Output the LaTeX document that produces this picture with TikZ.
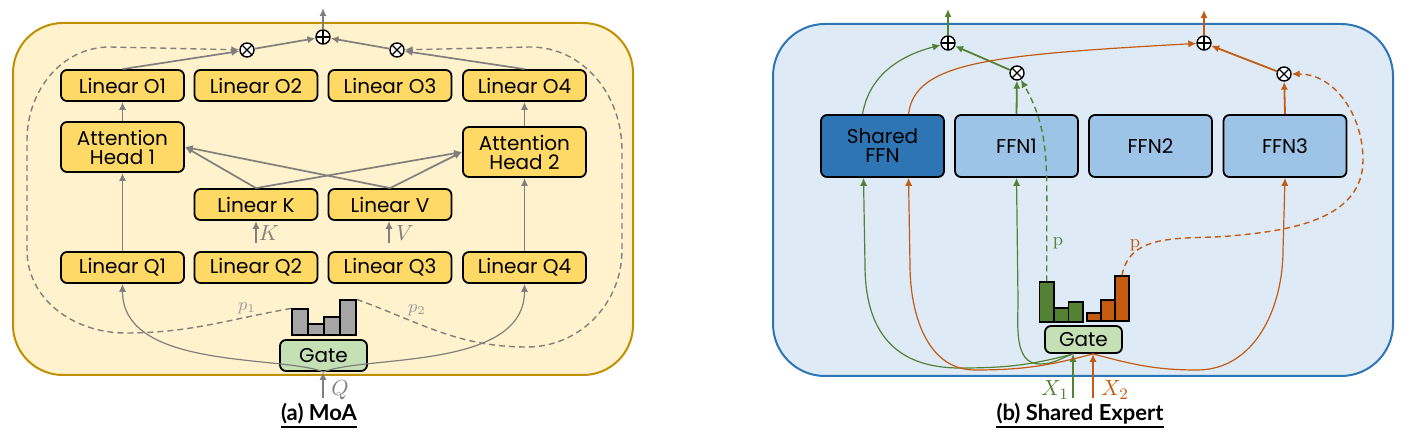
\documentclass[tikz,border=0pt]{standalone}
\usepackage[no-math]{fontspec}
\setmainfont{Poppins}
\newfontfamily\capfont{Lato}
\usetikzlibrary{arrows.meta}

\definecolor{moafill}{HTML}{FFF2CC}
\definecolor{moaline}{HTML}{BF9000}
\definecolor{linfill}{HTML}{FFD966}
\definecolor{gatefill}{HTML}{C5E0B4}
\definecolor{sefill}{HTML}{DEEBF7}
\definecolor{seline}{HTML}{2E75B6}
\definecolor{ffnfill}{HTML}{9DC3E6}
\definecolor{sharedfill}{HTML}{2E75B6}
\definecolor{arrgray}{HTML}{7F7F7F}
\definecolor{labgray}{HTML}{999999}
\definecolor{bargray}{HTML}{A5A5A5}
\definecolor{tokA}{HTML}{548235}
\definecolor{tokB}{HTML}{C55A11}

\tikzset{
  >={Latex[length=4pt,width=3.6pt]},
  unit/.style={draw, rounded corners=3pt, line width=0.9pt, inner sep=0pt,
    minimum width=61.5pt, minimum height=15.5pt,
    font=\fontsize{10}{9.5}\selectfont, align=center},
  lin/.style={unit, fill=linfill},
  head/.style={lin, minimum height=25pt},
  ffn/.style={unit, fill=ffnfill, minimum height=31pt},
  gatebox/.style={unit, fill=gatefill, minimum width=43.5pt},
  histbar/.style={draw, line width=0.8pt, inner sep=0pt, anchor=south, minimum width=8pt},
  opnode/.style={circle, draw, fill=white, line width=0.7pt, inner sep=0pt, minimum size=7pt},
  mulop/.style={opnode, path picture={\draw[line width=0.6pt]
    (path picture bounding box.north west) -- (path picture bounding box.south east)
    (path picture bounding box.north east) -- (path picture bounding box.south west);}},
  addop/.style={opnode, path picture={\draw[line width=0.6pt]
    (path picture bounding box.north) -- (path picture bounding box.south)
    (path picture bounding box.east) -- (path picture bounding box.west);}},
  garr/.style={arrgray, line width=0.85pt},
  gthin/.style={arrgray, line width=0.6pt},
  gdash/.style={arrgray, line width=0.7pt, dash pattern=on 3pt off 2pt},
  athick/.style={tokA, line width=0.9pt},
  athin/.style={tokA, line width=0.6pt},
  adash/.style={tokA, line width=0.7pt, dash pattern=on 3pt off 2pt},
  bthick/.style={tokB, line width=0.9pt},
  bthin/.style={tokB, line width=0.6pt},
  bdash/.style={tokB, line width=0.7pt, dash pattern=on 3pt off 2pt},
  mlab/.style={inner sep=0pt, font=\fontsize{11}{12}\selectfont},
  plab/.style={inner sep=0pt, font=\fontsize{9}{10}\selectfont},
  caption/.style={inner sep=0pt, anchor=base, font=\capfont\bfseries\fontsize{11}{12}\selectfont},
}

\begin{document}
\begin{tikzpicture}[x=0.5pt, y=-0.5pt]
\useasboundingbox (0,0) rectangle (1411,437);

% ---- (a) MoA ----
\draw[line width=1pt, draw=moaline, fill=moafill, rounded corners=25pt] (13,23) rectangle (633,375);

\node[lin] (lo1) at (122.5,85.5) {Linear O1};
\node[lin] (lo2) at (256,85.5) {Linear O2};
\node[lin] (lo3) at (390,85.5) {Linear O3};
\node[lin] (lo4) at (524.5,85.5) {Linear O4};
\node[head] (ha1) at (122.5,147) {Attention\\Head 1};
\node[head] (ha2) at (524.5,152) {Attention\\Head 2};
\node[lin] (lk) at (256,204.5) {Linear K};
\node[lin] (lv) at (390,204.5) {Linear V};
\node[lin] (lq1) at (122.5,267.5) {Linear Q1};
\node[lin] (lq2) at (256,267.5) {Linear Q2};
\node[lin] (lq3) at (390,267.5) {Linear Q3};
\node[lin] (lq4) at (524.5,267.5) {Linear Q4};
\node[gatebox] (gta) at (323.5,355.5) {Gate};

% gate scores
\node[histbar, fill=bargray, minimum height=13pt] (ga1) at (300,336) {};
\node[histbar, fill=bargray, minimum height=5.5pt] (ga2) at (316,336) {};
\node[histbar, fill=bargray, minimum height=9pt] (ga3) at (332,336) {};
\node[histbar, fill=bargray, minimum height=17.5pt] (ga4) at (348,336) {};

\node[mulop] (mulA1) at (247,50) {};
\node[mulop] (mulA2) at (397,50) {};
\node[addop] (addA) at (323,37) {};

\coordinate (outA) at (323,8);
\coordinate (kin) at (256,243);
\coordinate (vin) at (389,243);
\coordinate (qin) at (323,398);

% main flow
\draw[garr,->] (lq1.north) -- (ha1.south);
\draw[garr,->] (lq4.north) -- (ha2.south);
\draw[garr,->] (ha1.north) -- (lo1.south);
\draw[garr,->] (ha2.north) -- (lo4.south);
\draw[garr,->] (lk.north) -- (ha1.east);
\draw[garr,->] (lv.north) -- (ha1.east);
\draw[garr,->] (lk.north) -- (ha2.west);
\draw[garr,->] (lv.north) -- (ha2.west);
\draw[garr,->] (lo1.north) -- (mulA1);
\draw[garr,->] (lo4.north) -- (mulA2);
\draw[garr,->] (mulA1) -- (addA);
\draw[garr,->] (mulA2) -- (addA);
\draw[garr,->] (addA) -- (outA);
\draw[garr,->] (kin) -- (kin |- lk.south);
\draw[garr,->] (vin) -- (vin |- lv.south);
\draw[garr,->] (qin) -- (qin |- gta.south);
\draw[gthin,->] (gta.south) .. controls (280,355) and (122.5,370) .. (lq1.south);
\draw[gthin,->] (gta.south) .. controls (366,355) and (524.5,370) .. (lq4.south);

% routing weights
\draw[gdash,->] (ga1.north west) to[out=190,in=0] (125,333) to[out=180,in=-90] (27,250)
  -- (27,140) to[out=90,in=180] (110,47) -- (mulA1);
\draw[gdash,->] (ga4.north east) to[out=-20,in=180] (527,347) to[out=0,in=-90] (622,250)
  -- (622,150) to[out=90,in=0] (530,47) -- (mulA2);

\node[mlab, text=arrgray] (klab) at (269,233) {$K$};
\node[mlab, text=arrgray] (vlab) at (405,233) {$V$};
\node[mlab, text=arrgray] (qlab) at (340,390) {$Q$};
\node[plab, text=labgray] (p1lab) at (247,308) {$p_1$};
\node[plab, text=labgray] (p2lab) at (417,310) {$p_2$};

\node[caption] (capa) at (319,421) {(a) MoA};
\draw[line width=1.2pt] ([yshift=-3pt]capa.base west) -- ([yshift=-3pt]capa.base east);

% ---- (b) Shared Expert ----
\draw[line width=1pt, draw=seline, fill=sefill, rounded corners=26pt] (773,24) rectangle (1393,376);

\node[ffn, fill=sharedfill] (sffn) at (882.5,146) {Shared\\FFN};
\node[ffn] (ffn1) at (1016.5,146) {FFN1};
\node[ffn] (ffn2) at (1150.5,146) {FFN2};
\node[ffn] (ffn3) at (1285,146) {FFN3};
\node[gatebox, minimum width=38.5pt, minimum height=13.5pt] (gtb) at (1083.5,339.5) {Gate};

% gate scores per token
\node[histbar, fill=tokA, minimum width=7.25pt, minimum height=20pt] (gb1) at (1046.75,323) {};
\node[histbar, fill=tokA, minimum width=7.25pt, minimum height=7pt] (gb2) at (1061.25,323) {};
\node[histbar, fill=tokA, minimum width=7.25pt, minimum height=10pt] (gb3) at (1075.75,323) {};
\node[histbar, fill=tokB, minimum width=7pt, minimum height=4pt] (ob1) at (1094,322) {};
\node[histbar, fill=tokB, minimum width=7pt, minimum height=10.5pt] (ob2) at (1108,322) {};
\node[histbar, fill=tokB, minimum width=7pt, minimum height=22.5pt] (ob3) at (1122,322) {};

\node[addop] (addB1) at (948,43) {};
\node[mulop] (mulB1) at (1017,73) {};
\node[addop] (addB2) at (1204,43) {};
\node[mulop] (mulB2) at (1284,74) {};

\coordinate (outB1) at (948,9);
\coordinate (outB2) at (1204,10);
\coordinate (xa) at (1073,398);
\coordinate (xb) at (1093,398);

% token 1
\draw[athick,->] (xa) -- (xa |- gtb.south);
\draw[athin,->] (xa |- gtb.south) to[out=195,in=0] (960,368) to[out=180,in=-90,looseness=1.2] (865,265)
  -- ([xshift=-9.5pt]sffn.south);
\draw[athin,->] (xa |- gtb.south) to[out=200,in=0] (1040,364) to[out=180,in=-90] (1018,300) -- (ffn1.south);
\draw[athin,->] ([xshift=-10pt]sffn.north) to[out=80,in=195] (addB1);
\draw[athick,->] (ffn1.north) -- (mulB1);
\draw[athick,->] (mulB1) -- (addB1);
\draw[athick,->] (addB1) -- (outB1);
\draw[adash,->] (gb1.north) -- (1046.75,220) to[out=90,in=-60] (mulB1);

% token 2
\draw[bthick,->] (xb) -- (xb |- gtb.south);
\draw[bthin,->] (xb |- gtb.south) to[out=195,in=0] (975,370) to[out=180,in=-90] (910,265)
  -- ([xshift=13pt]sffn.south);
\draw[bthin,->] (xb |- gtb.south) to[out=-15,in=180] (1197,370) to[out=0,in=-90] (1283,250) -- (ffn3.south);
\draw[bthin,->] ([xshift=13pt]sffn.north) .. controls (915,62) and (990,55) .. (addB2);
\draw[bthick,->] (ffn3.north) -- (mulB2);
\draw[bthick,->] (mulB2) -- (addB2);
\draw[bthick,->] (addB2) -- (outB2);
\draw[bdash,->] (ob3.north) to[out=80,in=185] (1230,236) to[out=5,in=-90] (1363,160)
  to[out=90,in=0] (mulB2);

\node[mlab, text=tokA] (x1lab) at (1055,390) {$X_1$};
\node[mlab, text=tokB] (x2lab) at (1115,390) {$X_2$};
\node[plab, text=tokA] (pa) at (1058,243) {$\mathrm{p}$};
\node[plab, text=tokB] (pb) at (1135,245) {$\mathrm{p}$};

\node[caption] (capb) at (1080,421) {(b) Shared Expert};
\draw[line width=1.2pt] ([yshift=-3pt]capb.base west) -- ([yshift=-3pt]capb.base east);
\end{tikzpicture}
\end{document}
